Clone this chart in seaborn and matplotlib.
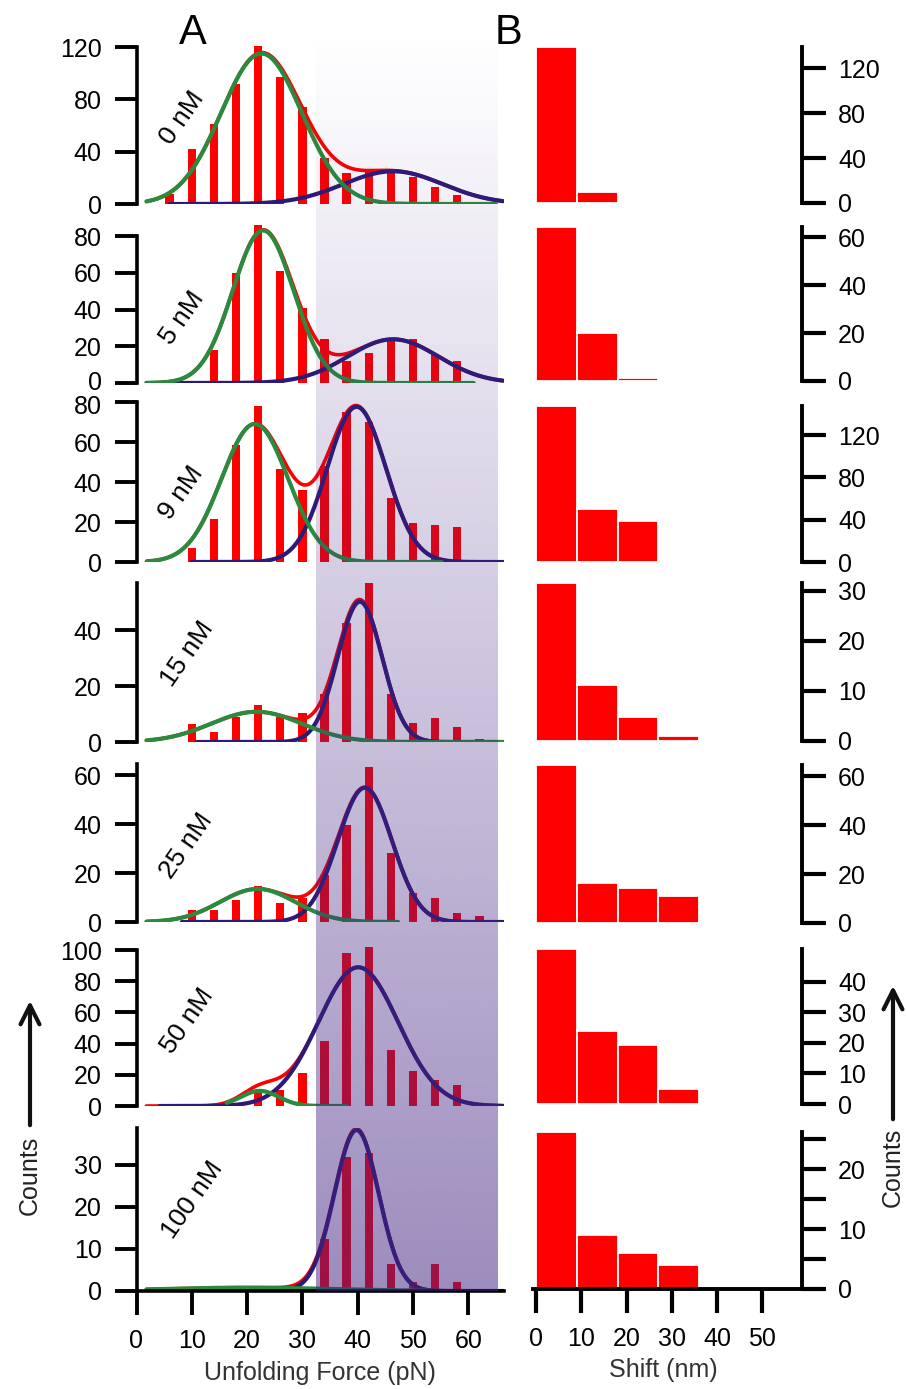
import numpy as np
import pandas as pd
import matplotlib
matplotlib.use("Agg")
import matplotlib.pyplot as plt
import matplotlib.transforms as mtransforms
import seaborn as sns

# ---------------- data ----------------
concentrations = ["0 nM", "5 nM", "9 nM", "15 nM", "25 nM", "50 nM", "100 nM"]
force_centers = [6, 10, 14, 18, 22, 26, 30, 34, 38, 42, 46, 50, 54, 58, 62]

counts_0nM   = [8, 42, 61, 92, 121, 97, 74, 35, 23.5, 26, 26.5, 21, 13, 7, 0]
counts_5nM   = [0, 1, 18, 60, 86, 61, 41, 24, 12, 16.5, 23, 24, 15, 12, 0]
counts_9nM   = [0, 7, 21.5, 58.5, 78, 46.5, 36, 48, 75, 70, 32, 19.5, 18.5, 17.5, 0]
counts_15nM  = [0, 6.4, 3.7, 9, 13.2, 9, 10.2, 17, 42.4, 56.9, 17, 6.9, 8.5, 5.2, 1.2]
counts_25nM  = [0, 4.7, 4.7, 9, 14.8, 7.7, 10, 19, 39.7, 63.3, 28.3, 12, 10, 3.7, 2.4]
counts_50nM  = [0, 0, 0, 0, 9.2, 10.3, 21.3, 41.7, 98.3, 101.7, 35.9, 22.4, 16.7, 13.5, 0]
counts_100nM = [0, 0, 0, 0, 0, 0, 0, 12.4, 32, 32.8, 6.5, 2.2, 6.5, 2.2, 0]
force_counts = [counts_0nM, counts_5nM, counts_9nM, counts_15nM,
                counts_25nM, counts_50nM, counts_100nM]

# Gaussian fit parameters (low-force peak = green, high-force peak = blue)
green_amp   = [115, 83, 69, 10.8, 13.5, 9.7, 0.8]
green_mu    = [22.6, 22.9, 21.4, 21.7, 21.9, 22.3, 20]
green_sigma = [7.3, 5.5, 6.0, 8.2, 6.8, 3.4, 15]
green_start = [1.8, 1.8, 1.9, 1.8, 1.8, 16.3, 1.8]
green_end   = [65, 61, 55.2, 66.3, 47.3, 38, 53]

blue_amp   = [25, 23.8, 77.6, 50.1, 54.8, 89, 38.3]
blue_mu    = [46.4, 46.4, 39.8, 40.4, 41.3, 40.1, 39.8]
blue_sigma = [9.0, 8.2, 5.3, 4.0, 4.9, 7.2, 4.0]
blue_start = [6, 1.8, 10, 10.9, 8.2, 4.2, 15]
blue_end   = [66.3, 66.3, 66.3, 66.3, 66.3, 66.3, 66.3]
sum_start, sum_end = 1.8, 66.3

shift_centers = [4.5, 13.5, 22.5, 31.5]
shift_0nM   = [138.7, 10, 0, 0]
shift_5nM   = [64.2, 20, 1.2, 0]
shift_9nM   = [148, 50.3, 38.9, 0]
shift_15nM  = [31.6, 11.2, 4.9, 1]
shift_25nM  = [64.5, 16.3, 14.2, 11.2]
shift_50nM  = [50.8, 24, 19.3, 4.9]
shift_100nM = [26.2, 9, 6, 4]
shift_counts = [shift_0nM, shift_5nM, shift_9nM, shift_15nM,
                shift_25nM, shift_50nM, shift_100nM]

force_yticks = [[0, 40, 80, 120], [0, 20, 40, 60, 80], [0, 20, 40, 60, 80],
                [0, 20, 40], [0, 20, 40, 60], [0, 20, 40, 60, 80, 100], [0, 10, 20, 30]]
force_ylim = [122, 86, 80, 56.8, 64.5, 102, 38.8]
force_spine_top = [120, 80, 80, 56.8, 64.5, 100, 38.8]
shift_yticks = [[0, 40, 80, 120], [0, 20, 40, 60], [0, 40, 80, 120], [0, 10, 20, 30],
                [0, 20, 40, 60], [0, 10, 20, 30, 40], [0, 5, 10, 15, 20, 25]]
shift_last_labels = ["0", "", "10", "", "20", ""]
force_xticks = [0, 10, 20, 30, 40, 50, 60]
shift_xticks = [0, 10, 20, 30, 40, 50]
shade_range = (32.5, 65.4)

# ---------------- style ----------------
sns.set_theme(style="white")
plt.rcParams['font.family'] = ['Liberation Sans', 'DejaVu Sans']

RED = '#ff0000'
GREEN = '#2a8a3e'
NAVY = '#2d1a78'
FS = 18

W, H = 906, 1389
fig = plt.figure(figsize=(W / 100, H / 100), dpi=100)

def px_axes(left, top, right, bottom, **kw):
    return fig.add_axes([left / W, 1 - bottom / H, (right - left) / W, (bottom - top) / H], **kw)

def nudge(label, dy_px):
    label.set_transform(label.get_transform() +
                        mtransforms.ScaledTranslation(0, dy_px / 100, fig.dpi_scale_trans))

left_rows = [(44.4, 204), (225, 383), (402, 562), (583, 742), (764, 922), (947, 1106), (1128, 1291)]
right_rows = [(47, 203), (227, 381), (405.5, 562), (583, 741), (765, 923), (949, 1104), (1132, 1289)]
LX0, LX1 = 136.5, 504.2
RX0, RX1 = 533, 802

def gauss(x, a, m, s):
    return a * np.exp(-(x - m) ** 2 / (2 * s ** 2))

axL, axR = [], []
for i in range(7):
    top, bot = left_rows[i]
    ax = px_axes(LX0, top, LX1, bot)
    ax.set_facecolor('none')
    df = pd.DataFrame({'force': force_centers, 'count': force_counts[i]})
    sns.barplot(data=df, x='force', y='count', native_scale=True, width=0.38,
                color=RED, saturation=1, errorbar=None, ax=ax, linewidth=0)
    # fitted curves
    xs = np.linspace(sum_start, sum_end, 400)
    ys = gauss(xs, green_amp[i], green_mu[i], green_sigma[i]) + gauss(xs, blue_amp[i], blue_mu[i], blue_sigma[i])
    sns.lineplot(x=xs, y=ys, ax=ax, color=RED, linewidth=2.6, estimator=None, sort=False)
    xb = np.linspace(blue_start[i], blue_end[i], 400)
    sns.lineplot(x=xb, y=gauss(xb, blue_amp[i], blue_mu[i], blue_sigma[i]), ax=ax,
                 color=NAVY, linewidth=3.0, estimator=None, sort=False)
    xg = np.linspace(green_start[i], green_end[i], 400)
    sns.lineplot(x=xg, y=gauss(xg, green_amp[i], green_mu[i], green_sigma[i]), ax=ax,
                 color=GREEN, linewidth=3.0, estimator=None, sort=False)
    ax.set_xlim(0, 66.5)
    ax.set_ylim(0, force_ylim[i])
    ax.set_xlabel('')
    ax.set_ylabel('')
    ax.set_yticks(force_yticks[i])
    ax.set_yticklabels([str(t) for t in force_yticks[i]])
    for s in ['top', 'right']:
        ax.spines[s].set_visible(False)
    ax.spines['left'].set_linewidth(2.6)
    ax.spines['left'].set_color('black')
    ax.spines['left'].set_bounds(0, force_spine_top[i])
    ax.tick_params(axis='y', direction='out', length=16, width=2.8, pad=9,
                   labelsize=FS, colors='black', left=True)
    if i < 6:
        ax.spines['bottom'].set_visible(False)
        ax.tick_params(axis='x', bottom=False, labelbottom=False)
    else:
        ax.spines['bottom'].set_linewidth(2.6)
        ax.spines['bottom'].set_color('black')
        ax.set_xticks(force_xticks)
        ax.set_xticklabels([str(t) for t in force_xticks])
        ax.tick_params(axis='x', direction='out', length=17, width=2.8, pad=10,
                       labelsize=FS, colors='black', bottom=True)
    ax.grid(False)
    axL.append(ax)

# keep the crowded labels between rows 2 and 3 apart
nudge(axL[1].get_yticklabels()[0], 3)
nudge(axL[2].get_yticklabels()[-1], -3)

for i in range(7):
    top, bot = right_rows[i]
    ax = px_axes(RX0, top, RX1, bot)
    ax.set_facecolor('none')
    df = pd.DataFrame({'shift': shift_centers, 'count': shift_counts[i]})
    sns.barplot(data=df, x='shift', y='count', native_scale=True, width=1.0,
                color=RED, saturation=1, errorbar=None, ax=ax,
                edgecolor='white', linewidth=1.3)
    ax.set_xlim(-0.7, 58.8)
    ax.set_ylim(0, shift_counts[i][0])
    ax.set_xlabel('')
    ax.set_ylabel('')
    ax.yaxis.tick_right()
    ax.set_yticks(shift_yticks[i])
    if i == 6:
        ax.set_yticklabels(shift_last_labels)
    else:
        ax.set_yticklabels([str(t) for t in shift_yticks[i]])
    for s in ['top', 'left']:
        ax.spines[s].set_visible(False)
    ax.spines['right'].set_linewidth(2.8)
    ax.spines['right'].set_color('black')
    ax.tick_params(axis='y', direction='out', length=17, width=3.0, pad=9,
                   labelsize=FS, colors='black', right=True, left=False,
                   labelright=True, labelleft=False)
    if i < 6:
        ax.spines['bottom'].set_visible(False)
        ax.tick_params(axis='x', bottom=False, labelbottom=False)
    else:
        ax.spines['bottom'].set_linewidth(2.8)
        ax.spines['bottom'].set_color('black')
        ax.set_xticks(shift_xticks)
        ax.set_xticklabels([str(t) for t in shift_xticks])
        ax.tick_params(axis='x', direction='out', length=17, width=3.0, pad=10,
                       labelsize=FS, colors='black', bottom=True)
    ax.grid(False)
    axR.append(ax)

# ---------------- shaded force window (gradient, drawn over the bars) ----------------
ov = fig.add_axes([0, 0, 1, 1], zorder=10)
ov.axis('off')
n = 256
alpha = np.linspace(0.0, 0.52, n)
grad = np.zeros((n, 2, 4))
grad[..., 0] = 65 / 255
grad[..., 1] = 35 / 255
grad[..., 2] = 130 / 255
grad[..., 3] = alpha[:, None]
trans = mtransforms.blended_transform_factory(axL[-1].transData, fig.transFigure)
ov.imshow(grad, extent=(shade_range[0], shade_range[1], 1 - 1291 / H, 1 - 30 / H),
          transform=trans, aspect='auto', interpolation='bilinear', origin='upper')

# ---------------- annotations ----------------
ann = fig.add_axes([0, 0, 1, 1], zorder=20)
ann.set_xlim(0, W)
ann.set_ylim(H, 0)
ann.axis('off')

ann.text(193, 33, 'A', fontsize=30, ha='center', va='center', color='black')
ann.text(509, 33, 'B', fontsize=30, ha='center', va='center', color='black')

label_pos = [(181.7, 117.5), (181.7, 318), (181, 493), (187.5, 654),
             (186.7, 845.5), (187.5, 1021), (192, 1200)]
for (x, y), lab in zip(label_pos, concentrations):
    ann.text(x, y, lab, fontsize=19, rotation=55, ha='center', va='center',
             rotation_mode='anchor', color='black')

ann.text(320, 1373, 'Unfolding Force (pN)', fontsize=18, ha='center', va='center', color='#333333')
ann.text(663, 1370, 'Shift (nm)', fontsize=18, ha='center', va='center', color='#333333')

ann.text(30, 1175, 'Counts', fontsize=18, rotation=90, ha='center', va='center', color='#222222')
ann.text(893, 1167, 'Counts', fontsize=18, rotation=90, ha='center', va='center', color='#222222')
ann.annotate('', xy=(30, 998), xytext=(30, 1128),
             arrowprops=dict(arrowstyle='->', lw=3, color='#111111', mutation_scale=34))
ann.annotate('', xy=(893, 983), xytext=(893, 1122),
             arrowprops=dict(arrowstyle='->', lw=3, color='#111111', mutation_scale=34))

fig.savefig('out.png', dpi=100)
